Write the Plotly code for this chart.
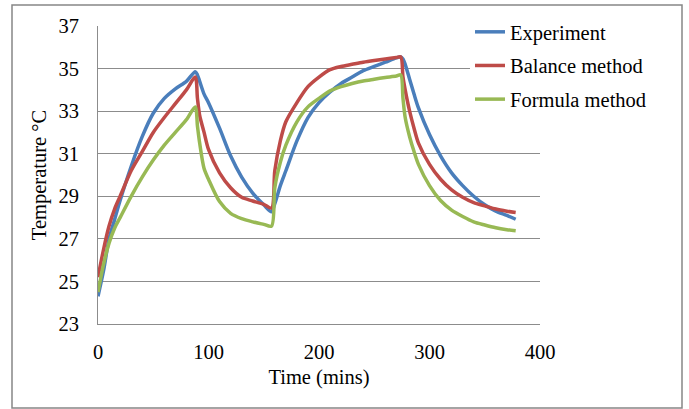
import plotly.graph_objects as go

# Time axis (mins)
time = [0, 5, 10, 15, 20, 30, 40, 50, 60, 70, 80, 88, 90, 92, 96, 100, 110, 120, 130, 140,
        150, 157, 160, 165, 170, 180, 190, 200, 210, 220, 230, 240, 250, 260, 270, 274, 276,
        278, 282, 286, 290, 300, 310, 320, 330, 340, 350, 360, 370, 378]

experiment = [24.3, 25.5, 27.0, 27.9, 28.8, 30.4, 31.8, 32.9, 33.6, 34.05, 34.4, 34.85, 34.7,
              34.4, 33.8, 33.4, 32.2, 30.9, 29.9, 29.15, 28.6, 28.27, 28.65, 29.5, 30.2, 31.6,
              32.7, 33.4, 33.9, 34.3, 34.6, 34.9, 35.1, 35.3, 35.5, 35.55, 35.45, 35.2, 34.5,
              33.8, 33.15, 31.9, 30.9, 30.1, 29.5, 29.0, 28.6, 28.3, 28.1, 27.92]

balance = [25.2, 26.5, 27.6, 28.4, 29.0, 30.2, 31.1, 32.0, 32.7, 33.35, 34.0, 34.6, 33.6, 32.8,
           32.0, 31.2, 30.1, 29.4, 28.95, 28.78, 28.62, 28.45, 30.2, 31.6, 32.5, 33.4, 34.15,
           34.6, 34.95, 35.1, 35.2, 35.3, 35.38, 35.45, 35.52, 35.55, 34.6, 34.0, 33.0, 32.2,
           31.5, 30.5, 29.8, 29.3, 28.95, 28.7, 28.55, 28.4, 28.3, 28.24]

formula = [24.5, 25.8, 26.8, 27.5, 28.0, 29.0, 29.9, 30.7, 31.4, 32.0, 32.6, 33.2, 32.3, 31.5,
           30.3, 29.8, 28.75, 28.2, 27.95, 27.8, 27.68, 27.6, 29.4, 30.6, 31.4, 32.5, 33.2, 33.6,
           33.95, 34.15, 34.3, 34.42, 34.5, 34.58, 34.65, 34.7, 33.6, 32.7, 31.8, 31.1, 30.5,
           29.5, 28.8, 28.35, 28.05, 27.8, 27.65, 27.52, 27.43, 27.38]

series_names = ["Experiment", "Balance method", "Formula method"]
series_colors = ["#4A7EBB", "#BE4B48", "#98B954"]
x_ticks = [0, 100, 200, 300, 400]
y_ticks = [23, 25, 27, 29, 31, 33, 35, 37]

FONT = "Liberation Serif, Times New Roman, serif"
FS = 20.5
GRID = "#8C8C8C"

fig = go.Figure()
for name, vals, col in zip(series_names, [experiment, balance, formula], series_colors):
    fig.add_trace(go.Scatter(x=time, y=vals, mode="lines", name=name, legendgroup=name,
                             line=dict(color=col, width=3.5, shape="spline", smoothing=0.8)))

L, R, T, B = 98, 149, 26, 85
W, H = 689, 409
pw, ph = W - L - R, H - T - B

def px_x(p):
    return (p - L) / pw

def px_y(p):
    return (H - B - p) / ph

# outer chart border
fig.add_shape(type="rect", xref="paper", yref="paper",
              x0=px_x(12), x1=px_x(682), y0=px_y(408), y1=px_y(5),
              line=dict(color="#868686", width=1.5), fillcolor="rgba(0,0,0,0)", layer="above")
# legend background masking gridlines
fig.add_shape(type="rect", xref="paper", yref="paper",
              x0=px_x(437), x1=px_x(680), y0=px_y(122), y1=px_y(14),
              line=dict(width=0), fillcolor="white", layer="between")

fig.update_layout(
    width=W, height=H,
    margin=dict(l=L, r=R, t=T, b=B),
    paper_bgcolor="white", plot_bgcolor="white",
    font=dict(family=FONT, size=FS, color="#000000"),
    showlegend=True,
    legend=dict(x=px_x(470), y=px_y(12), xanchor="left", yanchor="top",
                bgcolor="white", borderwidth=0,
                font=dict(family=FONT, size=FS, color="#000000"),
                tracegroupgap=4, traceorder="grouped"),
    xaxis=dict(range=[0, 400], tickvals=x_ticks, showgrid=False, zeroline=False,
               showline=True, linecolor=GRID, linewidth=1,
               ticks="outside", ticklen=9, tickcolor="rgba(0,0,0,0)",
               title=dict(text="Time (mins)", standoff=8,
                          font=dict(family=FONT, size=FS))),
    yaxis=dict(range=[23, 37], tickvals=y_ticks, showgrid=True, gridcolor=GRID, gridwidth=1,
               zeroline=False, showline=True, linecolor=GRID, linewidth=1,
               ticks="outside", ticklen=14, tickcolor="rgba(0,0,0,0)",
               title=dict(text="Temperature °C", standoff=6,
                          font=dict(family=FONT, size=FS))),
)

fig.write_html("out.html")
